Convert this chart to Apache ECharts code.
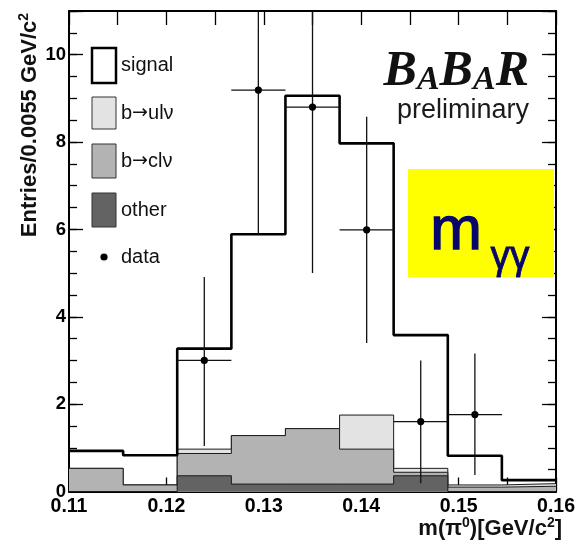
<!DOCTYPE html>
<html>
<head>
<meta charset="utf-8">
<script src="https://cdn.jsdelivr.net/npm/echarts@6/dist/echarts.min.js"></script>
<style>
  html, body { margin: 0; padding: 0; background: #ffffff; }
  #chart { width: 578px; height: 541px; }
</style>
</head>
<body>
<div id="chart"></div>
<script>
// Bin edges of m(pi0) in GeV/c^2: 9 bins between 0.11 and 0.16
const binEdges = [0.1100, 0.11556, 0.12111, 0.12667, 0.13222, 0.13778, 0.14333, 0.14889, 0.15444, 0.1600];

// Expected entries per bin for each component (stacked bottom to top)
const otherCounts  = [0.00, 0.00, 0.36, 0.17, 0.17, 0.17, 0.36, 0.00, 0.00];
const bclnuCounts  = [0.53, 0.15, 0.51, 1.11, 1.27, 0.80, 0.08, 0.10, 0.12];
const bulnuCounts  = [0.00, 0.00, 0.10, 0.00, 0.00, 0.78, 0.09, 0.05, 0.06];
const signalCounts = [0.40, 0.68, 2.30, 4.61, 7.62, 6.22, 3.05, 0.67, 0.08];

// Measured data points with their error bar ends
const dataX    = [0.12389, 0.12944, 0.13500, 0.14056, 0.14611, 0.15167];
const dataY    = [3.00, 9.19, 8.80, 5.99, 1.60, 1.76];
const dataLow  = [1.04, 5.90, 5.00, 3.40, 0.19, 0.38];
const dataHigh = [4.91, 12.48, 12.60, 8.58, 3.00, 3.16];

// Axis ranges and labels
const X_MIN = 0.11, X_MAX = 0.16, Y_MIN = 0, Y_MAX = 11;
const xTickLabels = ['0.11', '0.12', '0.13', '0.14', '0.15', '0.16'];
const yTickLabels = ['0', '2', '4', '6', '8', '10'];

const SANS = 'Liberation Sans, Arial, sans-serif';
const SERIF = 'Liberation Serif, Times New Roman, serif';

function cumulate(layers) {
  return layers[0].map((_, i) => layers.reduce((s, l) => s + l[i], 0));
}
const cumOther = otherCounts;
const cumBcl   = cumulate([otherCounts, bclnuCounts]);
const cumBul   = cumulate([otherCounts, bclnuCounts, bulnuCounts]);
const cumTotal = cumulate([otherCounts, bclnuCounts, bulnuCounts, signalCounts]);

// Histogram outline points: one per lower bin edge, plus the closing upper edge
function stepData(vals) {
  const d = vals.map((v, i) => [binEdges[i], v]);
  d.push([binEdges[binEdges.length - 1], vals[vals.length - 1]]);
  return d;
}

function histSeries(name, vals, fill, z) {
  return {
    type: 'line', name: name, step: 'end', data: stepData(vals),
    symbol: 'none', showSymbol: false, silent: true, z: z,
    lineStyle: { color: '#1a1a1a', width: 1 },
    areaStyle: fill ? { color: fill, opacity: 1 } : undefined
  };
}

function renderErrorBar(params, api) {
  const x = api.value(0), y = api.value(1);
  const lo = Math.max(api.value(2), Y_MIN), hi = Math.min(api.value(3), Y_MAX);
  const half = (binEdges[1] - binEdges[0]) / 2;
  const c = api.coord([x, y]);
  const cl = api.coord([x, lo]);
  const ch = api.coord([x, hi]);
  const l = api.coord([x - half, y]);
  const r = api.coord([x + half, y]);
  const ls = { stroke: '#111', lineWidth: 1.3 };
  return {
    type: 'group',
    children: [
      { type: 'line', shape: { x1: cl[0], y1: cl[1], x2: ch[0], y2: ch[1] }, style: ls },
      { type: 'line', shape: { x1: l[0], y1: l[1], x2: r[0], y2: r[1] }, style: ls },
      { type: 'circle', shape: { cx: c[0], cy: c[1], r: 3.6 }, style: { fill: '#000' } }
    ]
  };
}

function xLabel(v) {
  const k = Math.round(v * 1000);
  if (k % 10 !== 0) return '';
  const s = (k / 1000).toFixed(2);
  return xTickLabels.indexOf(s) >= 0 ? s : '';
}
function yLabel(v) {
  const s = String(Math.round(v * 10) / 10);
  return yTickLabels.indexOf(s) >= 0 ? s : '';
}

const frameLine = { show: true, onZero: false, lineStyle: { color: '#000', width: 2 } };
const tickStyle = { color: '#000', width: 1.3 };

function xAxisDef(position, withLabels) {
  return {
    type: 'value', position: position, min: X_MIN, max: X_MAX, interval: 0.005,
    axisLine: frameLine,
    axisTick: { show: true, inside: true, length: 14, lineStyle: tickStyle },
    axisLabel: withLabels ? {
      show: true, formatter: xLabel, margin: 5, color: '#000',
      fontFamily: SANS, fontWeight: 'bold', fontSize: 19.5
    } : { show: false },
    splitLine: { show: false }
  };
}
function yAxisDef(position, interval, tickLen, withLabels) {
  return {
    type: 'value', position: position, min: Y_MIN, max: Y_MAX, interval: interval,
    axisLine: frameLine,
    axisTick: { show: true, inside: true, length: tickLen, lineStyle: tickStyle },
    axisLabel: withLabels ? {
      show: true, formatter: yLabel, margin: 3, color: '#000',
      fontFamily: SANS, fontWeight: 'bold', fontSize: 18.5
    } : { show: false },
    splitLine: { show: false }
  };
}

// Legend entries
const legendItems = [
  { label: 'signal', fill: '#ffffff', stroke: '#000', lw: 2.5, y: 48, h: 35 },
  { label: 'b{ar|→}ulν', fill: '#e3e3e3', stroke: '#333', lw: 1, y: 97, h: 32 },
  { label: 'b{ar|→}clν', fill: '#b3b3b3', stroke: '#333', lw: 1, y: 144, h: 34 },
  { label: 'other', fill: '#636363', stroke: '#333', lw: 1, y: 193, h: 34 }
];
const legendRich = { ar: { fontFamily: 'DejaVu Sans', fontSize: 19, fill: '#111' } };
const legendGraphics = [];
legendItems.forEach(it => {
  legendGraphics.push({
    type: 'rect', z: 50,
    shape: { x: 92, y: it.y, width: 24, height: it.h },
    style: { fill: it.fill, stroke: it.stroke, lineWidth: it.lw }
  });
  legendGraphics.push({
    type: 'text', z: 50, x: 121, y: it.y + it.h / 2,
    style: { text: it.label, fontFamily: SANS, fontSize: 20, fill: '#111', align: 'left', verticalAlign: 'middle', rich: legendRich }
  });
});
legendGraphics.push({ type: 'circle', z: 50, shape: { cx: 104, cy: 257, r: 3.6 }, style: { fill: '#000' } });
legendGraphics.push({
  type: 'text', z: 50, x: 121, y: 257,
  style: { text: 'data', fontFamily: SANS, fontSize: 20, fill: '#111', align: 'left', verticalAlign: 'middle' }
});

const chart = echarts.init(document.getElementById('chart'), null, { renderer: 'canvas' });
chart.setOption({
  animation: false,
  backgroundColor: '#ffffff',
  grid: { left: 69, right: 18, top: 11, bottom: 49.5, containLabel: false },
  xAxis: [xAxisDef('bottom', true), xAxisDef('top', false)],
  yAxis: [
    yAxisDef('left', 0.5, 8, true),
    yAxisDef('left', 2, 14, false),
    yAxisDef('right', 0.5, 8, false),
    yAxisDef('right', 2, 14, false)
  ],
  series: [
    histSeries('b→ulν', cumBul, '#e3e3e3', 2),
    histSeries('b→clν', cumBcl, '#b3b3b3', 3),
    histSeries('other', cumOther, '#636363', 4),
    {
      type: 'line', name: 'signal', step: 'end', data: stepData(cumTotal),
      symbol: 'none', showSymbol: false, silent: true, z: 5,
      lineStyle: { color: '#000', width: 2.6 }
    },
    {
      type: 'custom', name: 'data', z: 6, silent: true,
      encode: { x: 0, y: 1 },
      data: dataX.map((x, i) => [x, dataY[i], dataLow[i], dataHigh[i]]),
      renderItem: renderErrorBar
    }
  ],
  graphic: legendGraphics.concat([
    {
      type: 'text', z: 50, x: 30, y: 125, rotation: Math.PI / 2,
      style: {
        text: 'Entries/0.0055 GeV/c{s|2}',
        fontFamily: SANS, fontWeight: 'bold', fontSize: 22, lineHeight: 26, fill: '#111',
        align: 'center', verticalAlign: 'middle',
        rich: { s: { fontFamily: SANS, fontWeight: 'bold', fontSize: 14, lineHeight: 14, verticalAlign: 'top', fill: '#111' } }
      }
    },
    {
      type: 'text', z: 50, x: 562, y: 529,
      style: {
        text: 'm(π{s|0})[GeV/c{s|2}]',
        fontFamily: SANS, fontWeight: 'bold', fontSize: 22, lineHeight: 26, fill: '#111',
        align: 'right', verticalAlign: 'middle',
        rich: { s: { fontFamily: SANS, fontWeight: 'bold', fontSize: 14, lineHeight: 14, verticalAlign: 'top', fill: '#111' } }
      }
    },
    {
      type: 'text', z: 50, x: 529, y: 97,
      style: {
        text: '{b|B}{a|A}{b|B}{a|A}{b|R}',
        align: 'right', verticalAlign: 'bottom', fill: '#111',
        rich: {
          b: { fontFamily: SERIF, fontStyle: 'italic', fontWeight: 'bold', fontSize: 50, lineHeight: 50, verticalAlign: 'bottom', fill: '#111' },
          a: { fontFamily: SERIF, fontStyle: 'italic', fontWeight: 'bold', fontSize: 34, lineHeight: 44, verticalAlign: 'bottom', fill: '#111' }
        }
      }
    },
    {
      type: 'text', z: 50, x: 529, y: 111,
      style: { text: 'preliminary', fontFamily: SANS, fontSize: 27, fill: '#1a1a1a', align: 'right', verticalAlign: 'middle' }
    },
    {
      type: 'rect', z: 60,
      shape: { x: 408, y: 169, width: 146, height: 108 },
      style: { fill: '#ffff00' }
    },
    {
      type: 'text', z: 61, x: 456, y: 232, scaleY: 1.0,
      style: { text: 'm', fontFamily: SANS, fontSize: 62, fill: '#06066b', stroke: '#06066b', lineWidth: 1.4, align: 'center', verticalAlign: 'middle' }
    },
    {
      type: 'text', z: 61, x: 510, y: 258, scaleY: 1.05,
      style: { text: 'γγ', fontFamily: SANS, fontSize: 39, fill: '#06066b', stroke: '#06066b', lineWidth: 0.8, align: 'center', verticalAlign: 'middle' }
    }
  ])
});
</script>
</body>
</html>
